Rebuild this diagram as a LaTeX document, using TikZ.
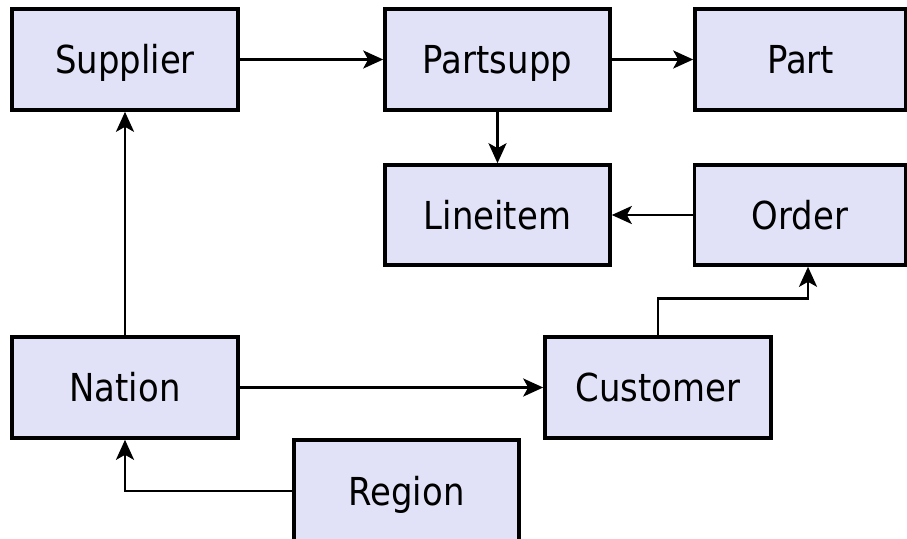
\documentclass[tikz,border=0pt]{standalone}
\usepackage{fontspec}
\setmainfont[FakeStretch=0.88]{DejaVu Sans}
\usetikzlibrary{arrows.meta}
\definecolor{boxfill}{RGB}{225,226,247}
\begin{document}
\begin{tikzpicture}[x=1pt,y=-1pt,
  entity/.style={draw=black,fill=boxfill,line width=3.6pt,rectangle,
    inner sep=0pt,text height=36pt,text depth=8pt,
    font=\fontsize{38.5}{40}\selectfont},
  link/.style={line width=2.7pt,-{Stealth[length=20pt,width=18pt,inset=5pt]}}]
\useasboundingbox (0,0) rectangle (907,538);
% tables
\node[entity,minimum width=226pt,minimum height=101pt] (supplier) at (125,59.5) {Supplier};
\node[entity,minimum width=225pt,minimum height=101pt] (partsupp) at (497.5,59.5) {Partsupp};
\node[entity,minimum width=211pt,minimum height=101pt] (part) at (800.5,59.5) {Part};
\node[entity,minimum width=225pt,minimum height=100pt] (lineitem) at (497.5,215) {Lineitem};
\node[entity,minimum width=211pt,minimum height=100pt] (order) at (800,215) {Order};
\node[entity,minimum width=226pt,minimum height=101pt] (nation) at (125,387.5) {Nation};
\node[entity,minimum width=226pt,minimum height=101pt] (customer) at (658,387.5) {Customer};
\node[entity,minimum width=225pt,minimum height=102pt] (region) at (406.5,491) {Region};
% references
\draw[link] (supplier.east) -- (partsupp.west);
\draw[link] (partsupp.east) -- (part.west);
\draw[link] (partsupp.south) -- (lineitem.north);
\draw[link] (order.west) -- (lineitem.east);
\draw[link] (nation.north) -- (supplier.south);
\draw[link] (nation.east) -- (customer.west);
\draw[link] (region.west) -| (nation.south);
\draw[link] (customer.north) -- ++(0,-37) -| ([xshift=8pt]order.south);
\end{tikzpicture}
\end{document}
